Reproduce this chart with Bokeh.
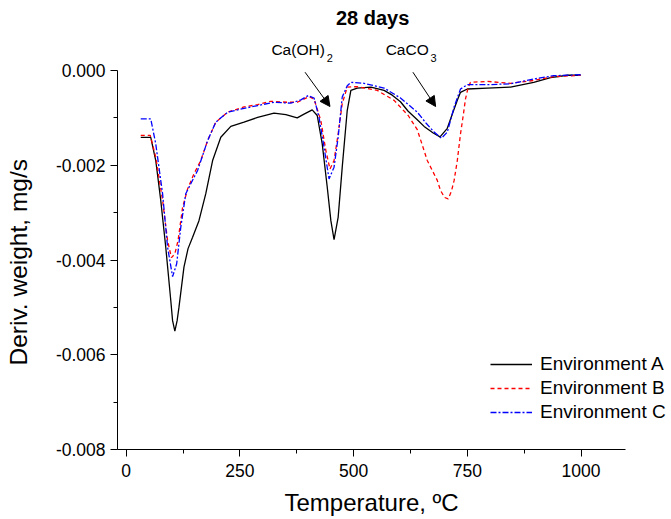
from bokeh.plotting import figure
from bokeh.models import (FixedTicker, PrintfTickFormatter, Label, Arrow,
                          NormalHead, Range1d, Title)
from bokeh.embed import file_html
from bokeh.resources import INLINE

# ---------------- data ----------------
temp_a = [32, 54, 65, 76, 87, 98, 102, 107, 112, 116, 127, 136, 146, 160, 175,
          190, 208, 230, 259, 289, 325, 351, 376, 391, 409, 420, 431, 442, 450,
          457, 466, 475, 486, 494, 508, 538, 567, 585, 603, 620, 640, 655, 675,
          690, 706, 720, 728, 735, 750, 794, 845, 896, 933, 970, 999]
deriv_a = [-1.41, -1.41, -1.90, -2.74, -3.73, -4.85, -5.28, -5.50, -5.28, -5.00,
           -4.15, -3.76, -3.52, -3.17, -2.60, -1.90, -1.41, -1.18, -1.09, -0.99,
           -0.90, -0.93, -1.00, -0.92, -0.83, -0.95, -1.55, -2.46, -3.17, -3.57,
           -3.10, -2.04, -0.84, -0.42, -0.37, -0.35, -0.42, -0.52, -0.66, -0.86,
           -1.04, -1.18, -1.32, -1.40, -1.22, -0.84, -0.63, -0.46, -0.39, -0.37,
           -0.35, -0.25, -0.15, -0.10, -0.10]

temp_b = [32, 53, 65, 80, 91, 99.5, 107, 114, 124, 135, 149, 164, 179, 197, 223,
          259, 289, 318, 354, 376, 402, 413, 428, 439, 448, 457, 466, 475, 486,
          508, 552, 589, 620, 640, 662, 684, 691, 700, 708, 715, 721, 728, 735,
          741, 746, 752, 757, 794, 845, 896, 940, 999]
deriv_b = [-1.37, -1.37, -1.83, -2.74, -3.59, -3.95, -3.87, -3.59, -2.89, -2.50,
           -2.18, -1.90, -1.48, -1.09, -0.88, -0.77, -0.72, -0.65, -0.67, -0.67,
           -0.55, -0.60, -1.06, -1.69, -2.08, -1.90, -1.34, -0.70, -0.35, -0.34,
           -0.42, -0.63, -0.95, -1.25, -1.90, -2.32, -2.53, -2.68, -2.71, -2.55,
           -2.32, -1.90, -1.34, -0.95, -0.60, -0.35, -0.25, -0.23, -0.27, -0.21,
           -0.13, -0.10]

temp_c = [32, 54, 65, 80, 91, 102, 111, 120, 131, 142, 157, 179, 197, 223, 259,
          289, 325, 362, 384, 400, 413, 424, 435, 446, 457, 466, 475, 486, 494,
          523, 567, 603, 640, 660, 677, 693, 706, 721, 735, 750, 794, 845, 896,
          940, 999]
deriv_c = [-1.02, -1.02, -1.55, -2.60, -3.73, -4.35, -4.08, -3.31, -2.60, -2.39,
           -2.11, -1.48, -1.09, -0.88, -0.80, -0.74, -0.67, -0.69, -0.62, -0.53,
           -0.58, -0.99, -1.62, -2.29, -2.04, -1.41, -0.56, -0.32, -0.25, -0.27,
           -0.37, -0.58, -0.88, -1.12, -1.30, -1.43, -1.30, -0.77, -0.39, -0.30,
           -0.30, -0.28, -0.18, -0.11, -0.09]

series_names = ["Environment A", "Environment B", "Environment C"]
x_ticks = [0, 250, 500, 750, 1000]
x_minor = [125, 375, 625, 875]
y_ticks = [-0.008, -0.006, -0.004, -0.002, 0.0]
y_minor = [-0.007, -0.005, -0.003, -0.001]
x_label = "Temperature, ºC"
y_label = "Deriv. weight, mg/s"
chart_title = "28 days"

# ---------------- figure ----------------
FONT = "Liberation Sans"
X0, X1 = -19.1, 1097.0          # drawn axis extent
Y0, Y1 = -0.008, 0.0
p = figure(width=671, height=519, output_backend="svg", toolbar_location=None,
           x_range=Range1d(X0, 1198.9), y_range=Range1d(Y0, 0.0014776),
           min_border_left=117, min_border_right=0,
           min_border_top=0, min_border_bottom=70)
p.outline_line_color = None
p.grid.visible = False
p.background_fill_color = "white"
p.border_fill_color = "white"

to_si = lambda vals: [v * 1e-3 for v in vals]

p.line(temp_a, to_si(deriv_a), line_color="black", line_width=1.3,
       legend_label=series_names[0])
p.line(temp_b, to_si(deriv_b), line_color="#ff0000", line_width=1.3,
       line_dash="4 3", legend_label=series_names[1])
p.line(temp_c, to_si(deriv_c), line_color="#0000ff", line_width=1.3,
       line_dash="6 2 2 2", legend_label=series_names[2])

for ax in (p.xaxis[0], p.yaxis[0]):
    ax.axis_line_color = "black"
    ax.axis_line_width = 1
    ax.major_tick_in = 0
    ax.major_tick_out = 7
    ax.minor_tick_in = 0
    ax.minor_tick_out = 4
    ax.major_tick_line_color = "black"
    ax.minor_tick_line_color = "black"
    ax.major_label_text_font = FONT
    ax.major_label_text_font_size = "17.5px"
    ax.major_label_text_color = "black"
    # blank spacer label: only reserves room between tick labels and axis title
    ax.axis_label = " "
    ax.axis_label_text_font_size = "1px"

p.xaxis.bounds = (X0, X1)
p.yaxis.bounds = (Y0, Y1)
p.xaxis.ticker = FixedTicker(ticks=x_ticks, minor_ticks=x_minor)
p.yaxis.ticker = FixedTicker(ticks=y_ticks, minor_ticks=y_minor)
p.yaxis.formatter = PrintfTickFormatter(format="%.3f")
p.xaxis.major_label_standoff = 7
p.yaxis.major_label_standoff = 5
p.xaxis.axis_label_standoff = 4
p.yaxis.axis_label_standoff = 16

# axis titles placed as side titles so they centre on the drawn axes
p.add_layout(Title(text=x_label, align="left", offset=167, standoff=0,
                   vertical_align="middle", text_font=FONT,
                   text_font_size="24px", text_font_style="normal",
                   text_color="black"), "below")
p.add_layout(Title(text=y_label, align="left", offset=84, standoff=0,
                   vertical_align="middle", text_font=FONT,
                   text_font_size="24.5px", text_font_style="normal",
                   text_color="black"), "left")

# title and annotations
p.add_layout(Label(x=541.9, y=0.0011, text=chart_title, text_font=FONT,
                   text_font_style="bold", text_font_size="20px",
                   text_color="black",
                   text_align="center", text_baseline="middle"))
ann = [("Ca(OH)", 319.3, 0.000443, "15.5px"), ("2", 440.8, 0.000274, "11px"),
       ("CaCO", 570.4, 0.000443, "15.5px"), ("3", 669.3, 0.000274, "11px")]
for txt, ax_, ay_, fs in ann:
    p.add_layout(Label(x=ax_, y=ay_, text=txt, text_font=FONT,
                       text_font_size=fs, text_color="black",
                       text_align="left", text_baseline="middle"))

for xs, xe in ((393.2, 448.0), (630.4, 680.3)):
    p.add_layout(Arrow(x_start=xs, y_start=-0.000036, x_end=xe, y_end=-0.00076,
                       line_color="black", line_width=1,
                       end=NormalHead(size=10, fill_color="black",
                                      line_color="black", line_width=1)))

lg = p.legend[0]
lg.location = (373, 25)
lg.padding = 0
lg.margin = 0
lg.spacing = 0
lg.border_line_alpha = 0
lg.background_fill_alpha = 0
lg.label_text_font = FONT
lg.label_text_font_size = "19px"
lg.label_text_color = "black"
lg.label_height = 24
lg.glyph_height = 24
lg.glyph_width = 42
lg.label_standoff = 8

open("out.html", "w").write(file_html(p, INLINE))
